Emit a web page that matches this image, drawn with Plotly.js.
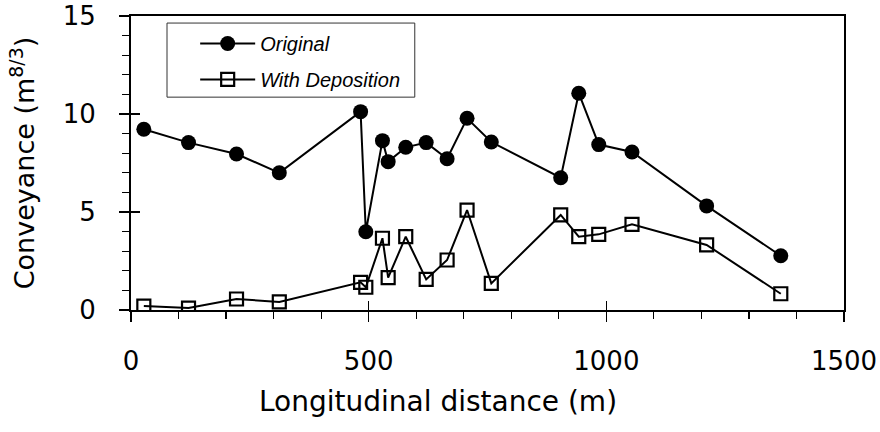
<!DOCTYPE html>
<html>
<head>
<meta charset="utf-8">
<script src="https://cdn.plot.ly/plotly-3.0.1.min.js"></script>
<style>html,body{margin:0;padding:0;background:#fff;}#chart{width:880px;height:432px;}</style>
</head>
<body>
<div id="chart"></div>
<script>
// Longitudinal distance (m)
const distance = [27, 121, 222, 312, 483, 494, 529, 541, 578, 621, 665, 707, 758, 904, 942, 984, 1054, 1211, 1367];
// Conveyance (m^8/3)
const original = [9.22, 8.54, 7.96, 7.0, 10.12, 3.99, 8.64, 7.57, 8.30, 8.54, 7.72, 9.78, 8.57, 6.75, 11.06, 8.44, 8.06, 5.31, 2.77];
const withDeposition = [0.2, 0.1, 0.56, 0.41, 1.41, 1.16, 3.66, 1.65, 3.74, 1.56, 2.55, 5.10, 1.36, 4.85, 3.74, 3.86, 4.37, 3.32, 0.83];
const seriesNames = ["Original", "With Deposition"];
const xTicks = [0, 500, 1000, 1500];
const yTicks = [0, 5, 10, 15];
const xTitle = "Longitudinal distance (m)";
const yTitle = "Conveyance (m<sup>8/3</sup>)";

const tickFont = {family: "DejaVu Sans", size: 26, color: "#000"};

const traces = [
  {
    x: distance, y: original, name: seriesNames[0], type: "scatter", mode: "lines+markers",
    line: {color: "#000", width: 2},
    marker: {symbol: "circle", size: 15, color: "#000"},
    legendgroup: "a"
  },
  {
    x: distance, y: withDeposition, name: seriesNames[1], type: "scatter", mode: "lines+markers",
    line: {color: "#000", width: 2},
    marker: {symbol: "square-open", size: 13, color: "#000", line: {width: 2.2, color: "#000"}},
    legendgroup: "b"
  }
];

const layout = {
  width: 880, height: 432,
  margin: {l: 131, r: 36, t: 16, b: 122},
  paper_bgcolor: "#fff", plot_bgcolor: "#fff",
  showlegend: true,
  legend: {
    x: 0.09, y: 0.973, xanchor: "left", yanchor: "top",
    borderwidth: 0, bgcolor: "rgba(0,0,0,0)",
    font: {family: "Liberation Sans", size: 20, style: "italic", color: "#000"},
    traceorder: "grouped", tracegroupgap: 7,
    itemwidth: 55
  },
  shapes: [
    {type: "rect", xref: "paper", yref: "paper", x0: 0.0505, x1: 0.398, y0: 0.724, y1: 0.976,
     line: {color: "#333", width: 1}, fillcolor: "rgba(0,0,0,0)", layer: "below"}
  ],
  annotations: [
    {text: xTitle, xref: "paper", yref: "paper", x: 0.43, y: -0.31, xanchor: "center", yanchor: "middle",
     showarrow: false, font: {family: "DejaVu Sans", size: 28, color: "#000"}}
  ],
  xaxis: {
    range: [0, 1500], tickvals: xTicks, ticktext: xTicks.map(String),
    showgrid: false, zeroline: false,
    showline: true, linecolor: "#000", linewidth: 2, mirror: true,
    ticks: "outside", ticklen: 10, tickwidth: 1.5, tickcolor: "#000",
    minor: {dtick: 100, ticks: "outside", ticklen: 7, tickwidth: 1.2, tickcolor: "#000", showgrid: false},
    tickfont: tickFont, ticklabelstandoff: 17,
    automargin: false
  },
  xaxis2: {
    overlaying: "x", matches: "x", anchor: "y", side: "bottom",
    range: [0, 1500], tickvals: xTicks, showticklabels: false,
    showgrid: false, zeroline: false, showline: false,
    ticks: "inside", ticklen: 9, tickwidth: 1.5, tickcolor: "#000"
  },
  yaxis: {
    range: [0, 15], tickvals: yTicks, ticktext: yTicks.map(String),
    showgrid: false, zeroline: false,
    showline: true, linecolor: "#000", linewidth: 2, mirror: true,
    ticks: "outside", ticklen: 10, tickwidth: 1.5, tickcolor: "#000",
    minor: {dtick: 1, ticks: "outside", ticklen: 7, tickwidth: 1.2, tickcolor: "#000", showgrid: false},
    tickfont: tickFont, ticklabelstandoff: 18,
    title: {text: yTitle, font: {family: "DejaVu Sans", size: 27, color: "#000"}, standoff: 20},
    automargin: false
  },
  yaxis2: {
    overlaying: "y", matches: "y", anchor: "x", side: "left",
    range: [0, 15], tickvals: yTicks, showticklabels: false,
    showgrid: false, zeroline: false, showline: false,
    ticks: "inside", ticklen: 9, tickwidth: 1.5, tickcolor: "#000"
  }
};

traces.push({x: [null], y: [null], xaxis: "x2", yaxis: "y2", showlegend: false, hoverinfo: "skip", type: "scatter"});

Plotly.newPlot("chart", traces, layout, {displayModeBar: false, staticPlot: true});
</script>
</body>
</html>
